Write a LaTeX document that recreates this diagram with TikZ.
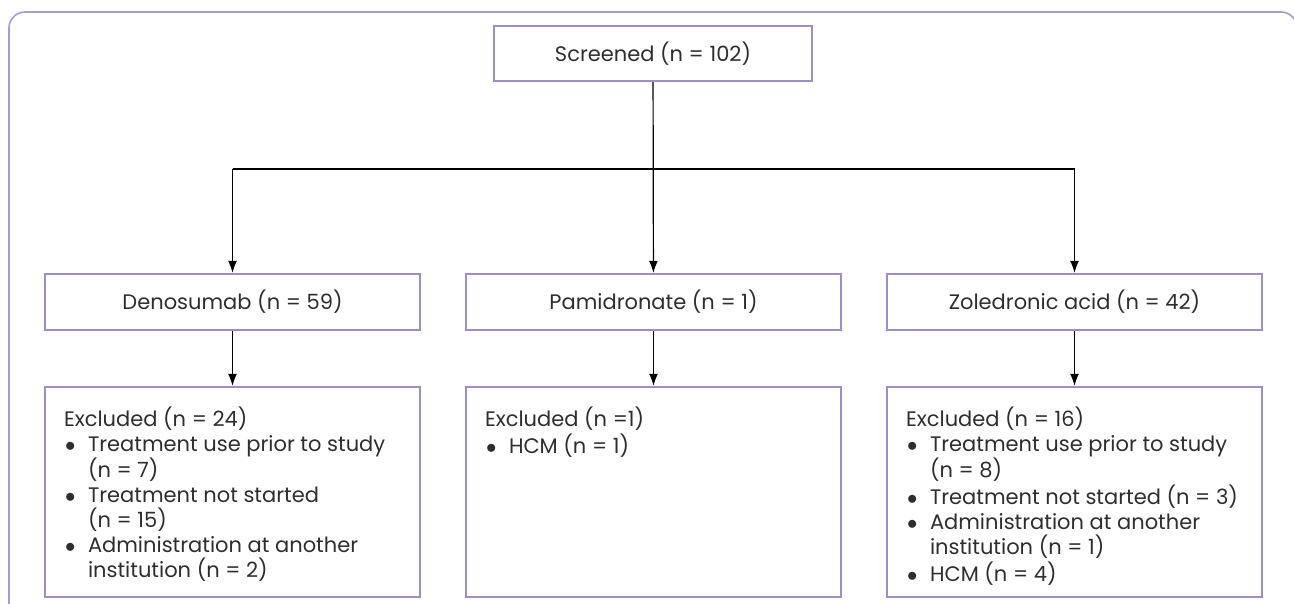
\documentclass[tikz,border=0pt]{standalone}
\usepackage{fontspec}
\setmainfont{Poppins}
\usetikzlibrary{calc,arrows.meta}
\definecolor{boxpurple}{HTML}{9C8FC9}
\definecolor{framepurple}{HTML}{A69CD2}
\definecolor{txtgray}{HTML}{2E2E2E}
\newcommand{\bul}{\hspace{1pt}$\bullet$}

\begin{document}
\begin{tikzpicture}[x=1pt, y=-1pt,
	every node/.style={font=\fontsize{21}{25}\selectfont, text=txtgray},
	box/.style={draw=boxpurple, line width=2.4pt, inner sep=0pt},
	exbox/.style={box, minimum width=375pt, minimum height=210pt},
	extext/.style={anchor=north west, inner sep=0pt},
	arr/.style={-{Latex[length=12pt,width=9pt]}, line width=1.2pt, black}]
	%%%%% START %%%%%
	
	\useasboundingbox (0, 0) rectangle (1294, 603);
	\clip (0, 0) rectangle (1294, 603);
	\draw[framepurple, line width=1.6pt, rounded corners=16pt] (9, 12) rectangle (1297, 650);
	
	\node[box, minimum width=318pt, minimum height=55pt] (scr) at (653, 53.5) {Screened (n = 102)};
	
	\node[box, minimum width=375pt, minimum height=56pt] (den) at (232.5, 302) {Denosumab (n = 59)};
	\node[box, minimum width=375pt, minimum height=56pt] (pam) at (653.5, 302) {Pamidronate (n = 1)};
	\node[box, minimum width=375pt, minimum height=56pt] (zol) at (1074.5, 302) {Zoledronic acid (n = 42)};
	
	\node[exbox] (exden) at (232.5, 492) {};
	\node[exbox] (expam) at (653.5, 492) {};
	\node[exbox] (exzol) at (1074.5, 492) {};
	
	\node[extext] (tden) at ($(exden.north west)+(20, 20.5)$) {%
		\begin{tabular}{@{}p{24pt}@{}p{320pt}@{}}
			\multicolumn{2}{@{}l@{}}{Excluded (n = 24)}\\
			\bul & Treatment use prior to study\newline(n = 7)\\
			\bul & Treatment not started\newline(n = 15)\\
			\bul & Administration at another\newline institution (n = 2)
		\end{tabular}};
	\node[extext] (tpam) at ($(expam.north west)+(20, 20.5)$) {%
		\begin{tabular}{@{}p{24pt}@{}p{320pt}@{}}
			\multicolumn{2}{@{}l@{}}{Excluded (n =1)}\\
			\bul & HCM (n = 1)
		\end{tabular}};
	\node[extext] (tzol) at ($(exzol.north west)+(20, 20.5)$) {%
		\begin{tabular}{@{}p{24pt}@{}p{320pt}@{}}
			\multicolumn{2}{@{}l@{}}{Excluded (n = 16)}\\
			\bul & Treatment use prior to study\newline(n = 8)\\
			\bul & Treatment not started (n = 3)\\
			\bul & Administration at another\newline institution (n = 1)\\
			\bul & HCM (n = 4)
		\end{tabular}};
	
	\coordinate (fork) at (653, 169);
	\draw[arr] (scr) -- (pam);
	\draw[line width=1.2pt] (fork -| den) -- (fork -| zol);
	\draw[arr] (fork -| den) -- (den);
	\draw[arr] (fork -| zol) -- (zol);
	
	\draw[arr] (den) -- (exden);
	\draw[arr] (pam) -- (expam);
	\draw[arr] (zol) -- (exzol);
	
	%%%%% END %%%%%
\end{tikzpicture}
\end{document}
